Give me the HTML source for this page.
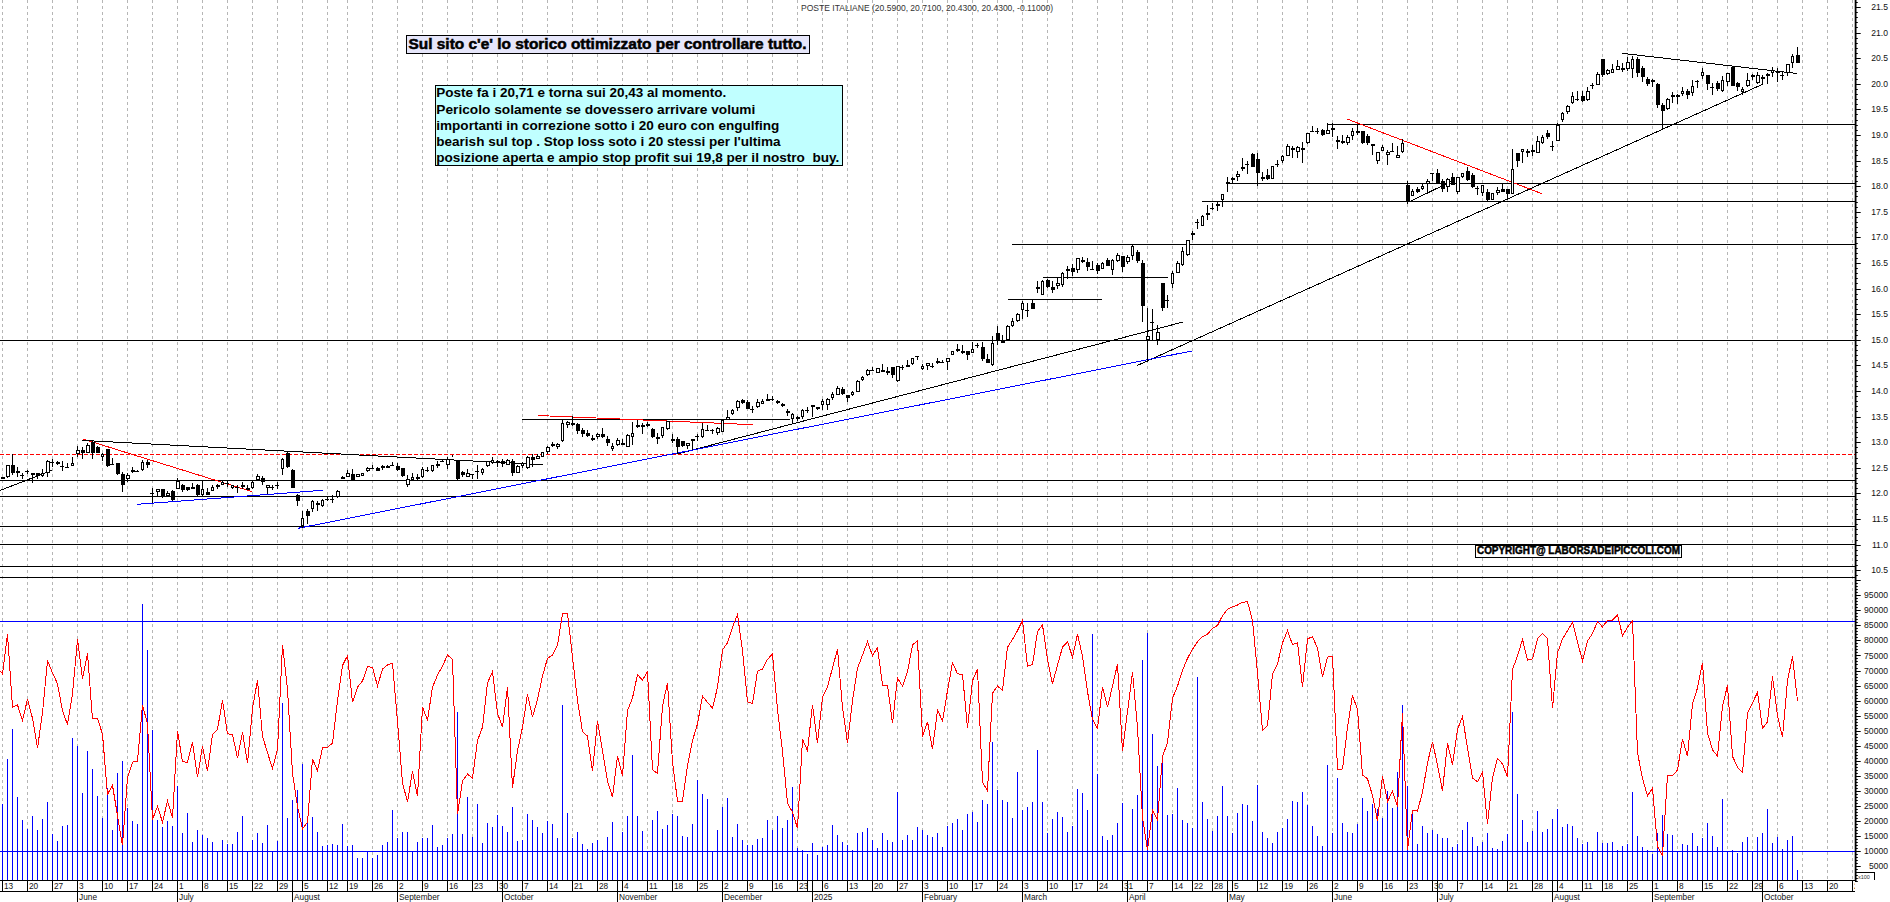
<!DOCTYPE html><html><head><meta charset="utf-8"><title>POSTE ITALIANE</title>
<style>html,body{margin:0;padding:0;background:#fff;overflow:hidden}svg{display:block}text{font-family:"Liberation Sans",Arial,sans-serif}</style></head><body>
<svg width="1890" height="902" viewBox="0 0 1890 902">
<rect width="1890" height="902" fill="#fff"/>
<path d="M2.5 0V880M27.5 0V880M52.5 0V880M77.5 0V880M102.5 0V880M127.5 0V880M152.5 0V880M177.5 0V880M202.5 0V880M227.5 0V880M252.5 0V880M277.5 0V880M302.5 0V880M327.5 0V880M347.5 0V880M372.5 0V880M397.5 0V880M422.5 0V880M447.5 0V880M472.5 0V880M497.5 0V880M522.5 0V880M547.5 0V880M572.5 0V880M597.5 0V880M622.5 0V880M647.5 0V880M672.5 0V880M697.5 0V880M722.5 0V880M747.5 0V880M772.5 0V880M797.5 0V880M822.5 0V880M847.5 0V880M872.5 0V880M897.5 0V880M922.5 0V880M947.5 0V880M972.5 0V880M997.5 0V880M1022.5 0V880M1047.5 0V880M1072.5 0V880M1097.5 0V880M1122.5 0V880M1147.5 0V880M1172.5 0V880M1192.5 0V880M1212.5 0V880M1232.5 0V880M1257.5 0V880M1282.5 0V880M1307.5 0V880M1332.5 0V880M1357.5 0V880M1382.5 0V880M1407.5 0V880M1432.5 0V880M1457.5 0V880M1482.5 0V880M1507.5 0V880M1532.5 0V880M1557.5 0V880M1582.5 0V880M1602.5 0V880M1627.5 0V880M1652.5 0V880M1677.5 0V880M1702.5 0V880M1727.5 0V880M1752.5 0V880M1777.5 0V880M1802.5 0V880M1827.5 0V880M1852.5 0V880" stroke="#b6b6b6" stroke-width="1" stroke-dasharray="3 3" fill="none" shape-rendering="crispEdges"/>
<path d="M0 340.5H1855M0 480.5H1855M0 496.5H1855M0 526.5H1855M0 544.5H1855M0 566.5H1855M0 577.5H1855M1327 124.5H1855M1227 183.5H1855M1202 201.5H1855M1012 244.5H1855M1043 277.5H1168M1008 299.5H1102M522 419.5H790" stroke="#000" stroke-width="1" fill="none" shape-rendering="crispEdges"/>
<path d="M0 454.5H1855" stroke="#f00" stroke-width="1" stroke-dasharray="4 2" fill="none" shape-rendering="crispEdges"/>
<line x1="1136.7" y1="365.7" x2="1762.6" y2="84.3" stroke="#000" stroke-width="1" shape-rendering="crispEdges"/>
<line x1="677" y1="454" x2="1183" y2="322" stroke="#000" stroke-width="1" shape-rendering="crispEdges"/>
<line x1="298" y1="528.3" x2="1191.7" y2="351" stroke="#00f" stroke-width="1" shape-rendering="crispEdges"/>
<line x1="137.3" y1="504.3" x2="322.7" y2="490.3" stroke="#00f" stroke-width="1" shape-rendering="crispEdges"/>
<line x1="82.7" y1="439" x2="252.3" y2="491.7" stroke="#f00" stroke-width="1" shape-rendering="crispEdges"/>
<line x1="82.5" y1="440.4" x2="543.3" y2="464.7" stroke="#000" stroke-width="1" shape-rendering="crispEdges"/>
<line x1="537.7" y1="415.5" x2="753.3" y2="424.7" stroke="#f00" stroke-width="1" shape-rendering="crispEdges"/>
<line x1="0" y1="490.5" x2="52" y2="470.3" stroke="#000" stroke-width="1" shape-rendering="crispEdges"/>
<line x1="1347" y1="119" x2="1541.7" y2="193.6" stroke="#f00" stroke-width="1" shape-rendering="crispEdges"/>
<line x1="1409" y1="202" x2="1452" y2="181" stroke="#000" stroke-width="1" shape-rendering="crispEdges"/>
<line x1="1622" y1="53.3" x2="1797" y2="73.5" stroke="#000" stroke-width="1" shape-rendering="crispEdges"/>
<path d="M2.5 477V479M7.5 465V465M7.5 477V478M12.5 454V475M17.5 467V477M22.5 473V479M20 475.5H24M27.5 470V474M25 471.5H29M32.5 473V483M37.5 473V479M42.5 469V473M42.5 476V477M47.5 460V461M47.5 473V477M52.5 459V467M50 462.5H54M57.5 461V465M62.5 461V471M60 466.5H64M67.5 463V468M65 467.5H69M72.5 457V463M72.5 466V466M77.5 446V450M77.5 454V457M82.5 447V459M87.5 443V445M87.5 453V453M92.5 441V459M97.5 446V453M102.5 453V454M102.5 457V461M107.5 449V467M112.5 458V465M110 464.5H114M117.5 463V475M122.5 472V492M127.5 473V475M127.5 479V482M132.5 467V473M137.5 470V472M135 471.5H139M142.5 460V462M142.5 470V471M147.5 460V468M152.5 488V503M150 493.5H154M157.5 489V489M157.5 492V496M162.5 489V498M167.5 491V493M167.5 496V496M172.5 490V501M177.5 478V481M177.5 489V489M182.5 484V492M187.5 487V491M192.5 483V489M197.5 484V496M202.5 481V489M202.5 495V496M207.5 488V495M212.5 485V487M212.5 491V491M217.5 484V489M222.5 481V482M222.5 485V485M227.5 481V487M225 483.5H229M232.5 485V485M232.5 488V489M237.5 485V493M235 487.5H239M242.5 482V489M247.5 485V490M252.5 480V482M252.5 488V489M257.5 474V476M257.5 480V481M262.5 476V485M267.5 485V485M267.5 488V494M272.5 485V490M270 487.5H274M277.5 482V489M275 485.5H279M282.5 458V459M282.5 469V475M287.5 451V468M292.5 469V488M297.5 494V506M302.5 511V518M302.5 526V528M307.5 509V524M312.5 500V501M312.5 509V512M317.5 501V511M322.5 499V500M322.5 506V507M327.5 497V501M325 499.5H329M332.5 495V503M330 499.5H334M337.5 490V491M337.5 497V498M342.5 476V479M347.5 470V473M347.5 477V477M352.5 469V480M357.5 474V474M357.5 477V477M362.5 473V473M362.5 476V476M367.5 467V468M367.5 471V472M372.5 465V469M370 468.5H374M377.5 467V471M382.5 465V470M387.5 465V468M392.5 462V466M390 465.5H394M397.5 463V471M402.5 468V477M407.5 475V479M407.5 485V487M412.5 473V477M412.5 480V480M417.5 474V480M422.5 467V469M422.5 477V478M427.5 467V472M425 470.5H429M432.5 465V465M432.5 471V472M437.5 461V468M442.5 459V462M440 461.5H444M447.5 457V459M447.5 465V469M452.5 455V457M457.5 461V481M462.5 471V477M467.5 469V473M467.5 477V477M472.5 474V479M470 474.5H474M477.5 465V479M475 471.5H479M482.5 468V469M482.5 473V475M487.5 461V461M487.5 466V467M492.5 457V460M492.5 463V464M497.5 460V467M502.5 459V467M507.5 459V460M507.5 465V465M512.5 459V476M517.5 465V466M517.5 473V473M522.5 462V463M522.5 466V468M527.5 456V457M527.5 468V469M532.5 454V467M537.5 454V456M537.5 459V459M542.5 452V452M542.5 457V457M547.5 446V447M547.5 452V454M552.5 442V447M557.5 443V444M557.5 447V449M562.5 420V423M562.5 441V442M567.5 421V422M567.5 425V428M572.5 416V426M577.5 423V434M582.5 428V437M587.5 430V437M592.5 435V441M597.5 433V434M597.5 437V439M602.5 428V438M607.5 436V446M612.5 443V446M612.5 449V451M617.5 438V440M617.5 445V446M622.5 439V444M627.5 434V435M627.5 447V447M632.5 422V433M632.5 437V445M637.5 420V428M642.5 423V434M647.5 422V427M652.5 428V438M657.5 433V444M662.5 427V427M662.5 436V438M667.5 421V421M667.5 429V430M672.5 434V443M677.5 437V454M682.5 441V447M687.5 443V443M687.5 446V449M692.5 439V449M697.5 434V441M695 436.5H699M702.5 423V429M702.5 437V438M707.5 425V431M705 430.5H709M712.5 429V434M710 430.5H714M717.5 427V428M717.5 433V435M722.5 419V420M722.5 432V432M727.5 410V417M727.5 420V420M732.5 409V410M732.5 414V415M737.5 400V401M737.5 408V411M742.5 399V404M747.5 400V409M752.5 406V413M750 409.5H754M757.5 399V402M757.5 407V408M762.5 399V401M762.5 404V404M767.5 394V400M772.5 396V401M770 399.5H774M777.5 400V404M782.5 403V407M787.5 409V416M792.5 413V414M792.5 419V424M797.5 416V421M802.5 409V410M802.5 417V419M807.5 407V413M805 410.5H809M812.5 405V417M817.5 407V410M822.5 399V401M822.5 405V410M827.5 398V399M827.5 405V410M832.5 392V394M832.5 398V400M837.5 386V388M837.5 395V395M842.5 387V395M847.5 395V402M852.5 391V392M852.5 395V396M857.5 380V381M857.5 392V392M862.5 376V377M862.5 380V381M867.5 369V370M867.5 375V376M872.5 367V371M870 370.5H874M877.5 368V368M877.5 373V373M882.5 364V372M887.5 367V375M892.5 367V378M897.5 366V366M897.5 381V382M902.5 365V370M900 367.5H904M907.5 360V367M912.5 358V358M912.5 364V365M917.5 356V360M915 356.5H919M922.5 364V366M922.5 369V370M927.5 363V363M927.5 366V370M932.5 363V368M930 366.5H934M937.5 358V364M942.5 360V363M940 362.5H944M947.5 358V358M947.5 362V370M952.5 351V351M952.5 355V355M957.5 344V352M962.5 345V354M967.5 351V360M972.5 342V349M972.5 353V353M977.5 343V348M975 345.5H979M982.5 342V361M987.5 354V363M992.5 336V343M992.5 365V366M997.5 326V345M1002.5 335V343M1007.5 325V326M1007.5 340V340M1012.5 318V321M1012.5 326V327M1017.5 313V314M1017.5 321V322M1022.5 301V303M1022.5 310V319M1027.5 303V317M1025 310.5H1029M1032.5 300V309M1037.5 281V293M1042.5 280V281M1042.5 295V295M1047.5 279V288M1052.5 281V293M1057.5 277V283M1057.5 286V289M1062.5 272V273M1062.5 285V287M1067.5 266V279M1072.5 264V276M1077.5 258V258M1077.5 270V273M1082.5 257V263M1087.5 258V271M1092.5 261V270M1090 269.5H1094M1097.5 263V274M1102.5 262V263M1102.5 269V269M1107.5 258V266M1112.5 259V260M1112.5 270V275M1117.5 253V255M1117.5 261V262M1122.5 256V272M1127.5 255V257M1127.5 262V264M1132.5 244V246M1132.5 256V260M1137.5 250V263M1142.5 260V322M1147.5 308V336M1147.5 340V362M1152.5 309V340M1150 322.5H1154M1157.5 325V332M1157.5 340V345M1162.5 283V311M1167.5 295V308M1165 300.5H1169M1172.5 271V273M1172.5 284V288M1177.5 261V263M1177.5 273V273M1182.5 247V251M1182.5 265V266M1187.5 240V240M1187.5 255V256M1192.5 231V240M1197.5 219V229M1195 222.5H1199M1202.5 215V216M1202.5 226V226M1207.5 205V220M1212.5 203V210M1210 208.5H1214M1217.5 202V211M1222.5 194V194M1222.5 200V207M1227.5 177V192M1232.5 177V183M1237.5 171V174M1237.5 177V181M1242.5 158V171M1247.5 161V174M1245 164.5H1249M1252.5 153V167M1257.5 153V186M1262.5 172V181M1267.5 169V180M1272.5 166V166M1272.5 179V179M1277.5 160V167M1275 164.5H1279M1282.5 155V156M1282.5 161V163M1287.5 144V146M1287.5 156V156M1292.5 146V158M1297.5 146V147M1297.5 152V158M1302.5 142V163M1307.5 133V133M1307.5 143V144M1312.5 126V132M1310 131.5H1314M1317.5 128V134M1315 131.5H1319M1322.5 129V136M1327.5 123V130M1327.5 134V134M1332.5 123V137M1337.5 136V149M1342.5 135V144M1347.5 135V137M1347.5 143V145M1352.5 128V131M1352.5 136V140M1357.5 124V135M1362.5 131V144M1367.5 134V145M1372.5 144V155M1377.5 152V152M1377.5 161V164M1382.5 145V147M1382.5 151V151M1387.5 150V152M1387.5 155V165M1392.5 143V152M1390 151.5H1394M1397.5 146V155M1397.5 158V158M1402.5 139V143M1402.5 152V153M1407.5 181V204M1412.5 189V191M1412.5 196V196M1417.5 187V193M1422.5 184V186M1422.5 189V190M1427.5 179V181M1427.5 184V193M1432.5 173V181M1430 173.5H1434M1437.5 169V184M1442.5 179V192M1447.5 178V179M1447.5 187V192M1452.5 173V185M1457.5 177V177M1457.5 192V194M1462.5 173V173M1462.5 177V178M1467.5 167V181M1472.5 173V188M1477.5 186V195M1475 188.5H1479M1482.5 185V185M1482.5 193V196M1487.5 189V201M1492.5 193V193M1492.5 200V200M1497.5 187V190M1497.5 193V195M1502.5 184V192M1507.5 189V198M1512.5 149V169M1512.5 194V194M1517.5 153V167M1522.5 149V149M1522.5 152V163M1527.5 149V157M1532.5 145V156M1537.5 136V141M1537.5 153V153M1542.5 135V137M1542.5 143V144M1547.5 130V139M1552.5 141V151M1550 146.5H1554M1557.5 123V125M1557.5 141V141M1562.5 112V113M1562.5 120V122M1567.5 105V106M1567.5 112V114M1572.5 92V96M1572.5 103V104M1577.5 91V101M1575 99.5H1579M1582.5 91V102M1587.5 87V91M1587.5 100V101M1592.5 83V89M1590 85.5H1594M1597.5 72V74M1597.5 85V85M1602.5 59V77M1607.5 69V70M1607.5 74V75M1612.5 64V69M1612.5 73V73M1617.5 60V66M1617.5 70V70M1622.5 63V72M1627.5 57V62M1627.5 69V71M1632.5 56V59M1632.5 69V78M1637.5 57V77M1642.5 66V82M1647.5 77V86M1652.5 79V87M1657.5 83V108M1662.5 103V129M1667.5 98V99M1667.5 109V110M1672.5 92V103M1677.5 94V104M1682.5 87V91M1682.5 94V96M1687.5 89V99M1692.5 80V86M1692.5 93V96M1697.5 80V88M1695 81.5H1699M1702.5 68V72M1702.5 76V79M1707.5 75V90M1712.5 83V95M1710 87.5H1714M1717.5 81V91M1722.5 76V80M1722.5 91V92M1727.5 73V73M1727.5 82V86M1732.5 66V86M1737.5 82V91M1742.5 87V89M1742.5 92V95M1747.5 73V80M1747.5 86V87M1752.5 74V80M1757.5 72V75M1757.5 83V84M1762.5 75V85M1767.5 73V84M1772.5 67V70M1772.5 73V77M1777.5 68V82M1782.5 72V80M1780 75.5H1784M1787.5 64V64M1787.5 73V76M1792.5 54V56M1792.5 63V68M1797.5 47V63" stroke="#000" stroke-width="1" fill="none" shape-rendering="crispEdges"/>
<path d="M1 477H5V479H1ZM11 465H15V473H11ZM16 471H20V473H16ZM31 473H35V475H31ZM36 473H40V476H36ZM56 462H60V464H56ZM81 450H85V453H81ZM91 442H95V453H91ZM96 447H100V453H96ZM106 449H110V466H106ZM116 463H120V474H116ZM121 474H125V485H121ZM131 470H135V472H131ZM146 462H150V465H146ZM161 489H165V497H161ZM171 491H175V500H171ZM181 485H185V490H181ZM186 487H190V490H186ZM191 487H195V489H191ZM196 485H200V495H196ZM206 492H210V495H206ZM216 485H220V487H216ZM241 485H245V487H241ZM246 488H250V490H246ZM261 478H265V482H261ZM286 453H290V467H286ZM291 470H295V488H291ZM296 495H300V501H296ZM306 511H310V516H306ZM316 503H320V505H316ZM341 477H345V479H341ZM351 474H355V480H351ZM376 468H380V471H376ZM381 466H385V468H381ZM386 466H390V468H386ZM396 466H400V470H396ZM401 468H405V476H401ZM416 477H420V479H416ZM436 464H440V466H436ZM456 461H460V479H456ZM461 472H465V475H461ZM496 461H500V463H496ZM501 461H505V464H501ZM511 461H515V473H511ZM531 457H535V460H531ZM551 444H555V446H551ZM571 423H575V425H571ZM576 424H580V431H576ZM581 430H585V434H581ZM586 433H590V436H586ZM591 438H595V440H591ZM601 434H605V437H601ZM606 439H610V443H606ZM621 443H625V445H621ZM636 425H640V427H636ZM641 425H645V427H641ZM646 424H650V426H646ZM651 429H655V437H651ZM656 437H660V439H656ZM671 439H675V441H671ZM676 439H680V447H676ZM681 441H685V446H681ZM691 439H695V441H691ZM741 400H745V403H741ZM746 402H750V409H746ZM766 399H770V401H766ZM776 401H780V403H776ZM781 404H785V406H781ZM786 411H790V413H786ZM796 417H800V419H796ZM811 405H815V407H811ZM816 407H820V409H816ZM841 389H845V394H841ZM846 395H850V398H846ZM881 370H885V372H881ZM886 371H890V373H886ZM891 367H895V375H891ZM906 365H910V367H906ZM936 361H940V363H936ZM956 349H960V351H956ZM961 351H965V353H961ZM966 351H970V355H966ZM981 347H985V359H981ZM986 359H990V363H986ZM996 333H1000V340H996ZM1001 341H1005V343H1001ZM1031 303H1035V309H1031ZM1036 287H1040V289H1036ZM1046 280H1050V287H1046ZM1051 287H1055V290H1051ZM1066 269H1070V271H1066ZM1071 268H1075V272H1071ZM1081 260H1085V262H1081ZM1086 262H1090V267H1086ZM1096 265H1100V271H1096ZM1106 260H1110V266H1106ZM1121 256H1125V267H1121ZM1136 252H1140V261H1136ZM1141 263H1145V306H1141ZM1161 283H1165V308H1161ZM1191 233H1195V235H1191ZM1206 213H1210V215H1206ZM1216 204H1220V206H1216ZM1226 182H1230V184H1226ZM1231 178H1235V180H1231ZM1241 167H1245V169H1241ZM1251 154H1255V167H1251ZM1256 159H1260V173H1256ZM1261 177H1265V179H1261ZM1266 175H1270V179H1266ZM1291 148H1295V150H1291ZM1301 148H1305V150H1301ZM1321 130H1325V135H1321ZM1331 128H1335V130H1331ZM1336 140H1340V142H1336ZM1341 141H1345V143H1341ZM1356 131H1360V133H1356ZM1361 131H1365V143H1361ZM1366 136H1370V143H1366ZM1371 144H1375V146H1371ZM1406 185H1410V202H1406ZM1416 189H1420V192H1416ZM1436 173H1440V183H1436ZM1441 181H1445V189H1441ZM1451 177H1455V185H1451ZM1466 171H1470V180H1466ZM1471 175H1475V187H1471ZM1486 192H1490V200H1486ZM1501 189H1505V192H1501ZM1506 189H1510V194H1506ZM1516 153H1520V161H1516ZM1526 151H1530V153H1526ZM1531 150H1535V152H1531ZM1546 133H1550V137H1546ZM1581 96H1585V101H1581ZM1601 59H1605V75H1601ZM1621 68H1625V70H1621ZM1636 59H1640V73H1636ZM1641 68H1645V77H1641ZM1646 79H1650V84H1646ZM1651 80H1655V82H1651ZM1656 84H1660V105H1656ZM1661 105H1665V111H1661ZM1671 95H1675V97H1671ZM1676 95H1680V97H1676ZM1686 91H1690V95H1686ZM1706 75H1710V84H1706ZM1716 83H1720V89H1716ZM1731 67H1735V86H1731ZM1736 83H1740V87H1736ZM1751 75H1755V77H1751ZM1761 77H1765V79H1761ZM1766 74H1770V76H1766ZM1776 71H1780V73H1776ZM1796 55H1800V63H1796Z" fill="#000" shape-rendering="crispEdges"/>
<path d="M6.5 465.5H9.5V476.5H6.5ZM41.5 473.5H43.5V475.5H41.5ZM46.5 461.5H49.5V472.5H46.5ZM71.5 463.5H73.5V465.5H71.5ZM76.5 450.5H79.5V453.5H76.5ZM86.5 445.5H89.5V452.5H86.5ZM101.5 454.5H103.5V456.5H101.5ZM126.5 475.5H129.5V478.5H126.5ZM141.5 462.5H143.5V469.5H141.5ZM156.5 489.5H159.5V491.5H156.5ZM166.5 493.5H169.5V495.5H166.5ZM176.5 481.5H179.5V488.5H176.5ZM201.5 489.5H203.5V494.5H201.5ZM211.5 487.5H213.5V490.5H211.5ZM221.5 482.5H223.5V484.5H221.5ZM231.5 485.5H233.5V487.5H231.5ZM251.5 482.5H253.5V487.5H251.5ZM256.5 476.5H259.5V479.5H256.5ZM266.5 485.5H269.5V487.5H266.5ZM281.5 459.5H283.5V468.5H281.5ZM301.5 518.5H303.5V525.5H301.5ZM311.5 501.5H313.5V508.5H311.5ZM321.5 500.5H323.5V505.5H321.5ZM336.5 491.5H339.5V496.5H336.5ZM346.5 473.5H349.5V476.5H346.5ZM356.5 474.5H359.5V476.5H356.5ZM361.5 473.5H363.5V475.5H361.5ZM366.5 468.5H369.5V470.5H366.5ZM406.5 479.5H409.5V484.5H406.5ZM411.5 477.5H413.5V479.5H411.5ZM421.5 469.5H423.5V476.5H421.5ZM431.5 465.5H433.5V470.5H431.5ZM446.5 459.5H449.5V464.5H446.5ZM466.5 473.5H469.5V476.5H466.5ZM481.5 469.5H483.5V472.5H481.5ZM486.5 461.5H489.5V465.5H486.5ZM491.5 460.5H493.5V462.5H491.5ZM506.5 460.5H509.5V464.5H506.5ZM516.5 466.5H519.5V472.5H516.5ZM521.5 463.5H523.5V465.5H521.5ZM526.5 457.5H529.5V467.5H526.5ZM536.5 456.5H539.5V458.5H536.5ZM541.5 452.5H543.5V456.5H541.5ZM546.5 447.5H549.5V451.5H546.5ZM556.5 444.5H559.5V446.5H556.5ZM561.5 423.5H563.5V440.5H561.5ZM566.5 422.5H569.5V424.5H566.5ZM596.5 434.5H599.5V436.5H596.5ZM611.5 446.5H613.5V448.5H611.5ZM616.5 440.5H619.5V444.5H616.5ZM626.5 435.5H629.5V446.5H626.5ZM631.5 433.5H633.5V436.5H631.5ZM661.5 427.5H663.5V435.5H661.5ZM666.5 421.5H669.5V428.5H666.5ZM686.5 443.5H689.5V445.5H686.5ZM701.5 429.5H703.5V436.5H701.5ZM716.5 428.5H719.5V432.5H716.5ZM721.5 420.5H723.5V431.5H721.5ZM726.5 417.5H729.5V419.5H726.5ZM731.5 410.5H733.5V413.5H731.5ZM736.5 401.5H739.5V407.5H736.5ZM756.5 402.5H759.5V406.5H756.5ZM761.5 401.5H763.5V403.5H761.5ZM791.5 414.5H793.5V418.5H791.5ZM801.5 410.5H803.5V416.5H801.5ZM821.5 401.5H823.5V404.5H821.5ZM826.5 399.5H829.5V404.5H826.5ZM831.5 394.5H833.5V397.5H831.5ZM836.5 388.5H839.5V394.5H836.5ZM851.5 392.5H853.5V394.5H851.5ZM856.5 381.5H859.5V391.5H856.5ZM861.5 377.5H863.5V379.5H861.5ZM866.5 370.5H869.5V374.5H866.5ZM876.5 368.5H879.5V372.5H876.5ZM896.5 366.5H899.5V380.5H896.5ZM911.5 358.5H913.5V363.5H911.5ZM921.5 366.5H923.5V368.5H921.5ZM926.5 363.5H929.5V365.5H926.5ZM946.5 358.5H949.5V361.5H946.5ZM951.5 351.5H953.5V354.5H951.5ZM971.5 349.5H973.5V352.5H971.5ZM991.5 343.5H993.5V364.5H991.5ZM1006.5 326.5H1009.5V339.5H1006.5ZM1011.5 321.5H1013.5V325.5H1011.5ZM1016.5 314.5H1019.5V320.5H1016.5ZM1021.5 303.5H1023.5V309.5H1021.5ZM1041.5 281.5H1043.5V294.5H1041.5ZM1056.5 283.5H1059.5V285.5H1056.5ZM1061.5 273.5H1063.5V284.5H1061.5ZM1076.5 258.5H1079.5V269.5H1076.5ZM1101.5 263.5H1103.5V268.5H1101.5ZM1111.5 260.5H1113.5V269.5H1111.5ZM1116.5 255.5H1119.5V260.5H1116.5ZM1126.5 257.5H1129.5V261.5H1126.5ZM1131.5 246.5H1133.5V255.5H1131.5ZM1146.5 336.5H1149.5V339.5H1146.5ZM1156.5 332.5H1159.5V339.5H1156.5ZM1171.5 273.5H1173.5V283.5H1171.5ZM1176.5 263.5H1179.5V272.5H1176.5ZM1181.5 251.5H1183.5V264.5H1181.5ZM1186.5 240.5H1189.5V254.5H1186.5ZM1201.5 216.5H1203.5V225.5H1201.5ZM1221.5 194.5H1223.5V199.5H1221.5ZM1236.5 174.5H1239.5V176.5H1236.5ZM1271.5 166.5H1273.5V178.5H1271.5ZM1281.5 156.5H1283.5V160.5H1281.5ZM1286.5 146.5H1289.5V155.5H1286.5ZM1296.5 147.5H1299.5V151.5H1296.5ZM1306.5 133.5H1309.5V142.5H1306.5ZM1326.5 130.5H1329.5V133.5H1326.5ZM1346.5 137.5H1349.5V142.5H1346.5ZM1351.5 131.5H1353.5V135.5H1351.5ZM1376.5 152.5H1379.5V160.5H1376.5ZM1381.5 147.5H1383.5V150.5H1381.5ZM1386.5 152.5H1389.5V154.5H1386.5ZM1396.5 155.5H1399.5V157.5H1396.5ZM1401.5 143.5H1403.5V151.5H1401.5ZM1411.5 191.5H1413.5V195.5H1411.5ZM1421.5 186.5H1423.5V188.5H1421.5ZM1426.5 181.5H1429.5V183.5H1426.5ZM1446.5 179.5H1449.5V186.5H1446.5ZM1456.5 177.5H1459.5V191.5H1456.5ZM1461.5 173.5H1463.5V176.5H1461.5ZM1481.5 185.5H1483.5V192.5H1481.5ZM1491.5 193.5H1493.5V199.5H1491.5ZM1496.5 190.5H1499.5V192.5H1496.5ZM1511.5 169.5H1513.5V193.5H1511.5ZM1521.5 149.5H1523.5V151.5H1521.5ZM1536.5 141.5H1539.5V152.5H1536.5ZM1541.5 137.5H1543.5V142.5H1541.5ZM1556.5 125.5H1559.5V140.5H1556.5ZM1561.5 113.5H1563.5V119.5H1561.5ZM1566.5 106.5H1569.5V111.5H1566.5ZM1571.5 96.5H1573.5V102.5H1571.5ZM1586.5 91.5H1589.5V99.5H1586.5ZM1596.5 74.5H1599.5V84.5H1596.5ZM1606.5 70.5H1609.5V73.5H1606.5ZM1611.5 69.5H1613.5V72.5H1611.5ZM1616.5 66.5H1619.5V69.5H1616.5ZM1626.5 62.5H1629.5V68.5H1626.5ZM1631.5 59.5H1633.5V68.5H1631.5ZM1666.5 99.5H1669.5V108.5H1666.5ZM1681.5 91.5H1683.5V93.5H1681.5ZM1691.5 86.5H1693.5V92.5H1691.5ZM1701.5 72.5H1703.5V75.5H1701.5ZM1721.5 80.5H1723.5V90.5H1721.5ZM1726.5 73.5H1729.5V81.5H1726.5ZM1741.5 89.5H1743.5V91.5H1741.5ZM1746.5 80.5H1749.5V85.5H1746.5ZM1756.5 75.5H1759.5V82.5H1756.5ZM1771.5 70.5H1773.5V72.5H1771.5ZM1786.5 64.5H1789.5V72.5H1786.5ZM1791.5 56.5H1793.5V62.5H1791.5Z" fill="#fff" stroke="#000" stroke-width="1" shape-rendering="crispEdges"/>
<path d="M2.5 804V880M7.5 759V880M12.5 729V880M17.5 797V880M22.5 820V880M27.5 829V880M32.5 816V880M37.5 830V880M42.5 819V880M47.5 802V880M52.5 834V880M57.5 841V880M62.5 826V880M67.5 825V880M72.5 738V880M77.5 746V880M82.5 793V880M87.5 751V880M92.5 769V880M97.5 796V880M102.5 818V880M107.5 788V880M112.5 830V880M117.5 773V880M122.5 761V880M127.5 808V880M132.5 821V880M137.5 824V880M142.5 604V880M147.5 650V880M152.5 730V880M157.5 820V880M162.5 827V880M167.5 821V880M172.5 826V880M177.5 786V880M182.5 833V880M187.5 813V880M192.5 842V880M197.5 830V880M202.5 835V880M207.5 838V880M212.5 842V880M217.5 852V880M222.5 840V880M227.5 844V880M232.5 844V880M237.5 832V880M242.5 816V880M247.5 852V880M252.5 840V880M257.5 833V880M262.5 843V880M267.5 825V880M272.5 852V880M277.5 841V880M282.5 703V880M287.5 818V880M292.5 800V880M297.5 790V880M302.5 764V880M307.5 822V880M312.5 817V880M317.5 832V880M322.5 846V880M327.5 845V880M332.5 844V880M337.5 845V880M342.5 824V880M347.5 846V880M352.5 845V880M357.5 858V880M362.5 858V880M367.5 852V880M372.5 858V880M377.5 855V880M382.5 845V880M387.5 842V880M392.5 810V880M397.5 838V880M402.5 832V880M407.5 832V880M412.5 852V880M417.5 842V880M422.5 838V880M427.5 838V880M432.5 825V880M437.5 847V880M442.5 845V880M447.5 838V880M452.5 834V880M457.5 712V880M462.5 834V880M467.5 797V880M472.5 837V880M477.5 804V880M482.5 843V880M487.5 823V880M492.5 827V880M497.5 815V880M502.5 826V880M507.5 832V880M512.5 807V880M517.5 841V880M522.5 840V880M527.5 814V880M532.5 820V880M537.5 827V880M542.5 833V880M547.5 821V880M552.5 824V880M557.5 838V880M562.5 705V880M567.5 813V880M572.5 838V880M577.5 832V880M582.5 844V880M587.5 849V880M592.5 843V880M597.5 840V880M602.5 850V880M607.5 837V880M612.5 822V880M617.5 852V880M622.5 832V880M627.5 816V880M632.5 755V880M637.5 816V880M642.5 831V880M647.5 852V880M652.5 820V880M657.5 811V880M662.5 829V880M667.5 825V880M672.5 814V880M677.5 816V880M682.5 836V880M687.5 837V880M692.5 824V880M697.5 780V880M702.5 794V880M707.5 799V880M712.5 852V880M717.5 830V880M722.5 807V880M727.5 798V880M732.5 837V880M737.5 824V880M742.5 840V880M747.5 845V880M752.5 845V880M757.5 839V880M762.5 838V880M767.5 820V880M772.5 830V880M777.5 816V880M782.5 828V880M787.5 820V880M792.5 787V880M797.5 848V880M802.5 850V880M807.5 854V880M812.5 843V880M817.5 855V880M822.5 847V880M827.5 845V880M832.5 825V880M837.5 835V880M842.5 842V880M847.5 845V880M852.5 850V880M857.5 833V880M862.5 832V880M867.5 828V880M872.5 840V880M877.5 848V880M882.5 833V880M887.5 840V880M892.5 842V880M897.5 792V880M902.5 840V880M907.5 835V880M912.5 840V880M917.5 827V880M922.5 830V880M927.5 835V880M932.5 837V880M937.5 833V880M942.5 847V880M947.5 826V880M952.5 823V880M957.5 819V880M962.5 830V880M967.5 814V880M972.5 812V880M977.5 822V880M982.5 800V880M987.5 804V880M992.5 742V880M997.5 790V880M1002.5 800V880M1007.5 802V880M1012.5 818V880M1017.5 772V880M1022.5 810V880M1027.5 807V880M1032.5 802V880M1037.5 750V880M1042.5 802V880M1047.5 833V880M1052.5 819V880M1057.5 812V880M1062.5 817V880M1067.5 832V880M1072.5 826V880M1077.5 789V880M1082.5 793V880M1087.5 810V880M1092.5 634V880M1097.5 774V880M1102.5 836V880M1107.5 840V880M1112.5 835V880M1117.5 823V880M1122.5 803V880M1132.5 809V880M1137.5 795V880M1142.5 660V880M1147.5 633V880M1152.5 734V880M1157.5 766V880M1162.5 760V880M1167.5 815V880M1172.5 814V880M1177.5 788V880M1182.5 820V880M1187.5 823V880M1192.5 828V880M1197.5 677V880M1202.5 802V880M1207.5 819V880M1212.5 831V880M1217.5 816V880M1222.5 786V880M1227.5 816V880M1232.5 833V880M1237.5 813V880M1242.5 804V880M1247.5 805V880M1252.5 821V880M1257.5 785V880M1262.5 832V880M1267.5 838V880M1272.5 843V880M1277.5 832V880M1282.5 828V880M1287.5 819V880M1292.5 801V880M1297.5 802V880M1302.5 792V880M1307.5 805V880M1312.5 826V880M1317.5 836V880M1322.5 846V880M1327.5 765V880M1332.5 833V880M1337.5 778V880M1342.5 823V880M1347.5 832V880M1352.5 833V880M1357.5 824V880M1362.5 798V880M1367.5 811V880M1372.5 804V880M1377.5 809V880M1382.5 818V880M1387.5 791V880M1392.5 808V880M1397.5 772V880M1402.5 705V880M1407.5 786V880M1412.5 813V880M1417.5 844V880M1422.5 826V880M1427.5 833V880M1432.5 830V880M1437.5 834V880M1442.5 838V880M1447.5 838V880M1452.5 847V880M1457.5 844V880M1462.5 830V880M1467.5 822V880M1472.5 837V880M1477.5 846V880M1482.5 842V880M1487.5 833V880M1492.5 848V880M1497.5 849V880M1502.5 841V880M1507.5 834V880M1512.5 712V880M1517.5 794V880M1522.5 820V880M1527.5 842V880M1532.5 831V880M1537.5 811V880M1542.5 832V880M1547.5 829V880M1552.5 819V880M1557.5 809V880M1562.5 827V880M1567.5 824V880M1572.5 826V880M1577.5 838V880M1582.5 844V880M1587.5 842V880M1592.5 852V880M1597.5 832V880M1602.5 843V880M1607.5 843V880M1612.5 842V880M1617.5 850V880M1622.5 846V880M1627.5 844V880M1632.5 792V880M1637.5 836V880M1642.5 847V880M1647.5 850V880M1652.5 854V880M1657.5 833V880M1662.5 815V880M1667.5 834V880M1672.5 835V880M1677.5 851V880M1682.5 844V880M1687.5 845V880M1692.5 833V880M1697.5 846V880M1702.5 838V880M1707.5 823V880M1712.5 836V880M1717.5 847V880M1722.5 799V880M1727.5 851V880M1732.5 850V880M1737.5 853V880M1742.5 842V880M1747.5 837V880M1752.5 851V880M1757.5 837V880M1762.5 833V880M1767.5 809V880M1772.5 843V880M1777.5 837V880M1782.5 849V880M1787.5 840V880M1792.5 836V880M1797.5 870V880" stroke="#00f" stroke-width="1" fill="none" shape-rendering="crispEdges"/>
<path d="M0 621.5H1855M0 851.5H1855" stroke="#00f" stroke-width="1" fill="none" shape-rendering="crispEdges"/>
<polyline points="0,670.9 2.5,673.9 7.5,634.3 12.5,707.2 17.5,705.0 22.5,720.1 27.5,699.4 32.5,718.3 37.5,748.3 42.5,712.8 47.5,660.6 52.5,672.8 57.5,683.9 62.5,710.6 67.5,724.6 72.5,693.9 77.5,639.4 82.5,678.8 87.5,653.4 92.5,719.0 97.5,718.3 102.5,734.3 107.5,794.3 112.5,785.4 117.5,815.4 122.5,845.4 127.5,777.7 132.5,762.1 137.5,761.0 142.5,705.0 147.5,723.9 152.5,819.4 157.5,806.6 162.5,822.1 167.5,801.0 172.5,817.7 177.5,731.2 182.5,761.7 187.5,762.3 192.5,742.1 197.5,777.2 202.5,746.1 207.5,771.2 212.5,734.3 217.5,729.4 222.5,700.1 227.5,733.9 232.5,734.3 237.5,758.3 242.5,732.1 247.5,763.4 252.5,708.3 257.5,680.1 262.5,736.1 267.5,752.8 272.5,768.3 277.5,749.4 282.5,644.6 287.5,689.4 292.5,773.2 297.5,806.6 302.5,828.8 307.5,822.1 312.5,759.0 317.5,770.6 322.5,747.9 327.5,747.2 332.5,743.2 337.5,700.6 342.5,665.4 347.5,655.7 352.5,702.3 357.5,687.2 362.5,681.0 367.5,666.8 372.5,667.2 377.5,686.1 382.5,669.0 387.5,665.0 392.5,663.2 397.5,721.7 402.5,782.8 407.5,802.1 412.5,771.2 417.5,796.1 422.5,707.2 427.5,720.1 432.5,687.2 437.5,675.0 442.5,666.1 447.5,655.0 452.5,659.4 457.5,814.3 462.5,781.0 467.5,774.1 472.5,778.3 477.5,740.6 482.5,727.2 487.5,682.8 492.5,671.7 497.5,713.4 502.5,727.2 507.5,686.8 512.5,787.7 517.5,750.8 522.5,727.2 527.5,694.3 532.5,717.2 537.5,699.4 542.5,676.1 547.5,658.3 552.5,655.0 557.5,645.0 562.5,613.9 567.5,613.4 572.5,657.2 577.5,700.6 582.5,731.7 587.5,736.1 592.5,771.2 597.5,720.6 602.5,750.6 607.5,781.0 612.5,797.2 617.5,755.7 622.5,775.7 627.5,710.6 632.5,697.9 637.5,674.6 642.5,680.1 647.5,671.7 652.5,769.7 657.5,773.4 662.5,706.1 667.5,682.8 672.5,762.1 677.5,801.0 682.5,801.0 687.5,765.7 692.5,740.6 697.5,723.9 702.5,696.1 707.5,702.3 712.5,708.3 717.5,687.2 722.5,649.9 727.5,642.8 732.5,627.2 737.5,614.6 742.5,650.6 747.5,701.7 752.5,703.4 757.5,671.2 762.5,669.0 767.5,659.4 772.5,653.9 777.5,709.4 782.5,751.4 787.5,803.2 792.5,812.1 797.5,828.3 802.5,739.4 807.5,750.6 812.5,704.6 817.5,743.2 822.5,697.2 827.5,687.2 832.5,667.7 837.5,649.4 842.5,707.2 847.5,743.2 852.5,700.6 857.5,668.3 862.5,655.0 867.5,641.7 872.5,655.7 877.5,647.7 882.5,685.0 887.5,685.0 892.5,723.2 897.5,677.9 902.5,686.1 907.5,671.7 912.5,645.0 917.5,640.6 922.5,736.6 927.5,721.7 932.5,749.4 937.5,709.9 942.5,721.0 947.5,690.6 952.5,662.8 957.5,673.9 962.5,674.3 967.5,727.9 972.5,680.6 977.5,669.0 982.5,782.1 987.5,791.0 992.5,693.2 997.5,686.1 1002.5,690.1 1007.5,647.2 1012.5,639.4 1017.5,630.6 1022.5,620.6 1027.5,666.1 1032.5,664.6 1037.5,631.7 1042.5,625.0 1047.5,659.4 1052.5,683.9 1057.5,665.0 1062.5,647.2 1067.5,641.7 1072.5,657.2 1077.5,634.3 1082.5,656.1 1087.5,691.7 1092.5,719.4 1097.5,728.3 1102.5,686.8 1107.5,707.2 1112.5,686.1 1117.5,663.9 1122.5,751.2 1127.5,711.7 1132.5,671.7 1137.5,727.2 1142.5,817.7 1147.5,849.9 1152.5,809.9 1157.5,819.9 1162.5,756.3 1167.5,742.8 1172.5,698.3 1177.5,686.1 1182.5,670.6 1187.5,658.3 1192.5,649.4 1197.5,641.7 1202.5,636.6 1207.5,634.3 1212.5,628.3 1217.5,625.4 1222.5,615.7 1227.5,609.4 1232.5,606.8 1237.5,605.0 1242.5,602.3 1247.5,601.7 1252.5,620.6 1257.5,672.8 1262.5,730.6 1267.5,725.4 1272.5,673.9 1277.5,663.9 1282.5,642.8 1287.5,630.6 1292.5,644.6 1297.5,642.8 1302.5,686.8 1307.5,639.0 1312.5,636.6 1317.5,648.3 1322.5,677.2 1327.5,657.2 1332.5,656.1 1337.5,769.4 1342.5,769.0 1347.5,727.2 1352.5,695.4 1357.5,709.4 1362.5,775.0 1367.5,778.8 1372.5,795.4 1377.5,821.0 1382.5,776.1 1387.5,801.7 1392.5,791.0 1397.5,806.6 1402.5,712.6 1407.5,849.9 1412.5,810.6 1417.5,811.0 1422.5,792.1 1427.5,763.0 1432.5,741.7 1437.5,765.2 1442.5,791.0 1447.5,743.2 1452.5,764.6 1457.5,729.4 1462.5,716.6 1467.5,748.3 1472.5,777.9 1477.5,781.7 1482.5,771.7 1487.5,824.3 1492.5,777.7 1497.5,758.3 1502.5,763.9 1507.5,777.2 1512.5,669.4 1517.5,656.1 1522.5,639.4 1527.5,660.1 1532.5,658.8 1537.5,638.8 1542.5,633.4 1547.5,638.8 1552.5,708.3 1557.5,652.8 1562.5,639.0 1567.5,630.6 1572.5,622.3 1577.5,642.3 1582.5,660.6 1587.5,641.0 1592.5,633.4 1597.5,621.7 1602.5,626.8 1607.5,620.6 1612.5,620.1 1617.5,615.0 1622.5,635.7 1627.5,627.2 1632.5,620.6 1637.5,752.8 1642.5,778.3 1647.5,795.9 1652.5,788.3 1657.5,846.6 1662.5,855.4 1667.5,775.3 1672.5,775.7 1677.5,770.1 1682.5,738.8 1687.5,756.3 1692.5,703.8 1697.5,687.9 1702.5,662.9 1707.5,732.8 1712.5,749.7 1717.5,756.3 1722.5,705.8 1727.5,685.5 1732.5,756.3 1737.5,767.3 1742.5,772.7 1747.5,713.4 1752.5,702.8 1757.5,692.3 1762.5,728.4 1767.5,721.8 1772.5,676.5 1777.5,715.8 1782.5,737.4 1787.5,680.9 1792.5,656.3 1797.5,700.8" stroke="#f00" stroke-width="1" fill="none" shape-rendering="crispEdges"/>
<path d="M1855 580.5H1857.8M1855 575.5H1857.8M1855 570.5H1860.7M1855 565.5H1857.8M1855 560.5H1857.8M1855 555.5H1857.8M1855 550.5H1857.8M1855 545.5H1860.7M1855 540.5H1857.8M1855 534.5H1857.8M1855 529.5H1857.8M1855 524.5H1857.8M1855 519.5H1860.7M1855 514.5H1857.8M1855 509.5H1857.8M1855 504.5H1857.8M1855 499.5H1857.8M1855 493.5H1860.7M1855 488.5H1857.8M1855 483.5H1857.8M1855 478.5H1857.8M1855 473.5H1857.8M1855 468.5H1860.7M1855 463.5H1857.8M1855 458.5H1857.8M1855 452.5H1857.8M1855 447.5H1857.8M1855 442.5H1860.7M1855 437.5H1857.8M1855 432.5H1857.8M1855 427.5H1857.8M1855 422.5H1857.8M1855 417.5H1860.7M1855 411.5H1857.8M1855 406.5H1857.8M1855 401.5H1857.8M1855 396.5H1857.8M1855 391.5H1860.7M1855 386.5H1857.8M1855 381.5H1857.8M1855 376.5H1857.8M1855 371.5H1857.8M1855 365.5H1860.7M1855 360.5H1857.8M1855 355.5H1857.8M1855 350.5H1857.8M1855 345.5H1857.8M1855 340.5H1860.7M1855 335.5H1857.8M1855 330.5H1857.8M1855 324.5H1857.8M1855 319.5H1857.8M1855 314.5H1860.7M1855 309.5H1857.8M1855 304.5H1857.8M1855 299.5H1857.8M1855 294.5H1857.8M1855 289.5H1860.7M1855 283.5H1857.8M1855 278.5H1857.8M1855 273.5H1857.8M1855 268.5H1857.8M1855 263.5H1860.7M1855 258.5H1857.8M1855 253.5H1857.8M1855 248.5H1857.8M1855 243.5H1857.8M1855 237.5H1860.7M1855 232.5H1857.8M1855 227.5H1857.8M1855 222.5H1857.8M1855 217.5H1857.8M1855 212.5H1860.7M1855 207.5H1857.8M1855 202.5H1857.8M1855 196.5H1857.8M1855 191.5H1857.8M1855 186.5H1860.7M1855 181.5H1857.8M1855 176.5H1857.8M1855 171.5H1857.8M1855 166.5H1857.8M1855 161.5H1860.7M1855 155.5H1857.8M1855 150.5H1857.8M1855 145.5H1857.8M1855 140.5H1857.8M1855 135.5H1860.7M1855 130.5H1857.8M1855 125.5H1857.8M1855 120.5H1857.8M1855 114.5H1857.8M1855 109.5H1860.7M1855 104.5H1857.8M1855 99.5H1857.8M1855 94.5H1857.8M1855 89.5H1857.8M1855 84.5H1860.7M1855 79.5H1857.8M1855 74.5H1857.8M1855 68.5H1857.8M1855 63.5H1857.8M1855 58.5H1860.7M1855 53.5H1857.8M1855 48.5H1857.8M1855 43.5H1857.8M1855 38.5H1857.8M1855 33.5H1860.7M1855 27.5H1857.8M1855 22.5H1857.8M1855 17.5H1857.8M1855 12.5H1857.8M1855 7.5H1860.7M1855 2.5H1857.8M1855 -2.5H1857.8M1855 881.5H1857.8M1855 878.5H1857.8M1855 875.5H1857.8M1855 872.5H1857.8M1855 869.5H1857.8M1855 866.5H1860.7M1855 863.5H1857.8M1855 860.5H1857.8M1855 857.5H1857.8M1855 854.5H1857.8M1855 851.5H1860.7M1855 848.5H1857.8M1855 845.5H1857.8M1855 842.5H1857.8M1855 839.5H1857.8M1855 836.5H1860.7M1855 833.5H1857.8M1855 830.5H1857.8M1855 827.5H1857.8M1855 824.5H1857.8M1855 821.5H1860.7M1855 818.5H1857.8M1855 815.5H1857.8M1855 812.5H1857.8M1855 809.5H1857.8M1855 806.5H1860.7M1855 803.5H1857.8M1855 800.5H1857.8M1855 797.5H1857.8M1855 794.5H1857.8M1855 791.5H1860.7M1855 788.5H1857.8M1855 785.5H1857.8M1855 782.5H1857.8M1855 779.5H1857.8M1855 776.5H1860.7M1855 773.5H1857.8M1855 770.5H1857.8M1855 767.5H1857.8M1855 764.5H1857.8M1855 761.5H1860.7M1855 758.5H1857.8M1855 755.5H1857.8M1855 752.5H1857.8M1855 749.5H1857.8M1855 746.5H1860.7M1855 743.5H1857.8M1855 740.5H1857.8M1855 737.5H1857.8M1855 734.5H1857.8M1855 731.5H1860.7M1855 728.5H1857.8M1855 725.5H1857.8M1855 722.5H1857.8M1855 719.5H1857.8M1855 716.5H1860.7M1855 713.5H1857.8M1855 710.5H1857.8M1855 707.5H1857.8M1855 704.5H1857.8M1855 701.5H1860.7M1855 698.5H1857.8M1855 695.5H1857.8M1855 692.5H1857.8M1855 689.5H1857.8M1855 686.5H1860.7M1855 683.5H1857.8M1855 680.5H1857.8M1855 677.5H1857.8M1855 674.5H1857.8M1855 671.5H1860.7M1855 668.5H1857.8M1855 664.5H1857.8M1855 661.5H1857.8M1855 658.5H1857.8M1855 655.5H1860.7M1855 652.5H1857.8M1855 649.5H1857.8M1855 646.5H1857.8M1855 643.5H1857.8M1855 640.5H1860.7M1855 637.5H1857.8M1855 634.5H1857.8M1855 631.5H1857.8M1855 628.5H1857.8M1855 625.5H1860.7M1855 622.5H1857.8M1855 619.5H1857.8M1855 616.5H1857.8M1855 613.5H1857.8M1855 610.5H1860.7M1855 607.5H1857.8M1855 604.5H1857.8M1855 601.5H1857.8M1855 598.5H1857.8M1855 595.5H1860.7M1855 592.5H1857.8M1855 589.5H1857.8M1855 586.5H1857.8M1855 583.5H1857.8M1855 580.5H1860.7" stroke="#000" stroke-width="1" fill="none"/>
<rect x="1854.7" y="0" width="1.8" height="881" fill="#000"/>
<g font-size="8.6" fill="#111"><text x="1888" y="573.2" text-anchor="end">10.5</text><text x="1888" y="547.6" text-anchor="end">11.0</text><text x="1888" y="522.0" text-anchor="end">11.5</text><text x="1888" y="496.4" text-anchor="end">12.0</text><text x="1888" y="470.8" text-anchor="end">12.5</text><text x="1888" y="445.2" text-anchor="end">13.0</text><text x="1888" y="419.6" text-anchor="end">13.5</text><text x="1888" y="394.0" text-anchor="end">14.0</text><text x="1888" y="368.4" text-anchor="end">14.5</text><text x="1888" y="342.8" text-anchor="end">15.0</text><text x="1888" y="317.2" text-anchor="end">15.5</text><text x="1888" y="291.6" text-anchor="end">16.0</text><text x="1888" y="266.0" text-anchor="end">16.5</text><text x="1888" y="240.4" text-anchor="end">17.0</text><text x="1888" y="214.8" text-anchor="end">17.5</text><text x="1888" y="189.2" text-anchor="end">18.0</text><text x="1888" y="163.6" text-anchor="end">18.5</text><text x="1888" y="138.0" text-anchor="end">19.0</text><text x="1888" y="112.4" text-anchor="end">19.5</text><text x="1888" y="86.8" text-anchor="end">20.0</text><text x="1888" y="61.1" text-anchor="end">20.5</text><text x="1888" y="35.5" text-anchor="end">21.0</text><text x="1888" y="9.9" text-anchor="end">21.5</text><text x="1888" y="869.0" text-anchor="end">5000</text><text x="1888" y="853.9" text-anchor="end">10000</text><text x="1888" y="838.9" text-anchor="end">15000</text><text x="1888" y="823.9" text-anchor="end">20000</text><text x="1888" y="808.8" text-anchor="end">25000</text><text x="1888" y="793.8" text-anchor="end">30000</text><text x="1888" y="778.8" text-anchor="end">35000</text><text x="1888" y="763.7" text-anchor="end">40000</text><text x="1888" y="748.7" text-anchor="end">45000</text><text x="1888" y="733.6" text-anchor="end">50000</text><text x="1888" y="718.6" text-anchor="end">55000</text><text x="1888" y="703.6" text-anchor="end">60000</text><text x="1888" y="688.5" text-anchor="end">65000</text><text x="1888" y="673.5" text-anchor="end">70000</text><text x="1888" y="658.5" text-anchor="end">75000</text><text x="1888" y="643.4" text-anchor="end">80000</text><text x="1888" y="628.4" text-anchor="end">85000</text><text x="1888" y="613.4" text-anchor="end">90000</text><text x="1888" y="598.3" text-anchor="end">95000</text></g>
<path d="M1857 872.5H1874.5V880" stroke="#000" fill="none" shape-rendering="crispEdges"/>
<text x="1858" y="878.5" font-size="5.5" fill="#333">x100</text>
<path d="M0 880.5H1856M0 891.5H1855M2.5 880V892M27.5 880V892M52.5 880V892M77.5 880V892M102.5 880V892M127.5 880V892M152.5 880V892M177.5 880V892M202.5 880V892M227.5 880V892M252.5 880V892M277.5 880V892M302.5 880V892M327.5 880V892M347.5 880V892M372.5 880V892M397.5 880V892M422.5 880V892M447.5 880V892M472.5 880V892M497.5 880V892M522.5 880V892M547.5 880V892M572.5 880V892M597.5 880V892M622.5 880V892M647.5 880V892M672.5 880V892M697.5 880V892M722.5 880V892M747.5 880V892M772.5 880V892M797.5 880V892M807.5 880V892M822.5 880V892M847.5 880V892M872.5 880V892M897.5 880V892M922.5 880V892M947.5 880V892M972.5 880V892M997.5 880V892M1022.5 880V892M1047.5 880V892M1072.5 880V892M1097.5 880V892M1122.5 880V892M1147.5 880V892M1172.5 880V892M1192.5 880V892M1212.5 880V892M1232.5 880V892M1257.5 880V892M1282.5 880V892M1307.5 880V892M1332.5 880V892M1357.5 880V892M1382.5 880V892M1407.5 880V892M1432.5 880V892M1457.5 880V892M1482.5 880V892M1507.5 880V892M1532.5 880V892M1557.5 880V892M1582.5 880V892M1602.5 880V892M1627.5 880V892M1652.5 880V892M1677.5 880V892M1702.5 880V892M1727.5 880V892M1752.5 880V892M1777.5 880V892M1802.5 880V892M1827.5 880V892M1852.5 880V892M77.5 880V902M177.5 880V902M292.5 880V902M397.5 880V902M502.5 880V902M617.5 880V902M722.5 880V902M812.5 880V902M922.5 880V902M1022.5 880V902M1127.5 880V902M1227.5 880V902M1332.5 880V902M1437.5 880V902M1552.5 880V902M1652.5 880V902M1762.5 880V902" stroke="#000" stroke-width="1" fill="none" shape-rendering="crispEdges"/>
<clipPath id="cb"><rect x="0" y="880" width="1855" height="22"/></clipPath>
<g font-size="8.3" fill="#111" clip-path="url(#cb)"><text x="4" y="889">13</text><text x="29" y="889">20</text><text x="54" y="889">27</text><text x="79" y="889">3</text><text x="104" y="889">10</text><text x="129" y="889">17</text><text x="154" y="889">24</text><text x="179" y="889">1</text><text x="204" y="889">8</text><text x="229" y="889">15</text><text x="254" y="889">22</text><text x="279" y="889">29</text><text x="304" y="889">5</text><text x="329" y="889">12</text><text x="349" y="889">19</text><text x="374" y="889">26</text><text x="399" y="889">2</text><text x="424" y="889">9</text><text x="449" y="889">16</text><text x="474" y="889">23</text><text x="499" y="889">30</text><text x="524" y="889">7</text><text x="549" y="889">14</text><text x="574" y="889">21</text><text x="599" y="889">28</text><text x="624" y="889">4</text><text x="649" y="889">11</text><text x="674" y="889">18</text><text x="699" y="889">25</text><text x="724" y="889">2</text><text x="749" y="889">9</text><text x="774" y="889">16</text><text x="799" y="889">23</text><text x="824" y="889">6</text><text x="849" y="889">13</text><text x="874" y="889">20</text><text x="899" y="889">27</text><text x="924" y="889">3</text><text x="949" y="889">10</text><text x="974" y="889">17</text><text x="999" y="889">24</text><text x="1024" y="889">3</text><text x="1049" y="889">10</text><text x="1074" y="889">17</text><text x="1099" y="889">24</text><text x="1124" y="889">31</text><text x="1149" y="889">7</text><text x="1174" y="889">14</text><text x="1194" y="889">22</text><text x="1214" y="889">28</text><text x="1234" y="889">5</text><text x="1259" y="889">12</text><text x="1284" y="889">19</text><text x="1309" y="889">26</text><text x="1334" y="889">2</text><text x="1359" y="889">9</text><text x="1384" y="889">16</text><text x="1409" y="889">23</text><text x="1434" y="889">30</text><text x="1459" y="889">7</text><text x="1484" y="889">14</text><text x="1509" y="889">21</text><text x="1534" y="889">28</text><text x="1559" y="889">4</text><text x="1584" y="889">11</text><text x="1604" y="889">18</text><text x="1629" y="889">25</text><text x="1654" y="889">1</text><text x="1679" y="889">8</text><text x="1704" y="889">15</text><text x="1729" y="889">22</text><text x="1754" y="889">29</text><text x="1779" y="889">6</text><text x="1804" y="889">13</text><text x="1829" y="889">20</text><text x="1854" y="889">27</text><text x="79" y="900">June</text><text x="179" y="900">July</text><text x="294" y="900">August</text><text x="399" y="900">September</text><text x="504" y="900">October</text><text x="619" y="900">November</text><text x="724" y="900">December</text><text x="814" y="900">2025</text><text x="924" y="900">February</text><text x="1024" y="900">March</text><text x="1129" y="900">April</text><text x="1229" y="900">May</text><text x="1334" y="900">June</text><text x="1439" y="900">July</text><text x="1554" y="900">August</text><text x="1654" y="900">September</text><text x="1764" y="900">October</text></g>
<text x="927" y="11" font-size="8.3" fill="#333" text-anchor="middle" textLength="252" lengthAdjust="spacingAndGlyphs">POSTE ITALIANE (20.5900, 20.7100, 20.4300, 20.4300, -0.11000)</text>
<rect x="406.5" y="35.5" width="403" height="18" fill="#e6e6fa" stroke="#000" shape-rendering="crispEdges"/>
<text x="408.5" y="49.3" font-size="14.2" font-weight="bold" fill="#000" stroke="#000" stroke-width="0.5" textLength="398" lengthAdjust="spacingAndGlyphs">Sul sito c'e' lo storico ottimizzato per controllare tutto.</text>
<rect x="435.5" y="85.5" width="407" height="80" fill="#c0ffff" stroke="#000" shape-rendering="crispEdges"/>
<text x="436.3" y="97" font-size="13.33" font-weight="bold" fill="#000" xml:space="preserve" textLength="290" lengthAdjust="spacingAndGlyphs">Poste fa i 20,71 e torna sui 20,43 al momento.</text>
<text x="436.3" y="113.5" font-size="13.33" font-weight="bold" fill="#000" xml:space="preserve" textLength="319" lengthAdjust="spacingAndGlyphs">Pericolo solamente se dovessero arrivare volumi</text>
<text x="436.3" y="130" font-size="13.33" font-weight="bold" fill="#000" xml:space="preserve" textLength="343" lengthAdjust="spacingAndGlyphs">importanti in correzione sotto i 20 euro con engulfing</text>
<text x="436.3" y="146.2" font-size="13.33" font-weight="bold" fill="#000" xml:space="preserve" textLength="344.3" lengthAdjust="spacingAndGlyphs">bearish sul top . Stop loss soto i 20 stessi per l'ultima</text>
<text x="436.3" y="162" font-size="13.33" font-weight="bold" fill="#000" xml:space="preserve" textLength="403" lengthAdjust="spacingAndGlyphs">posizione aperta e ampio stop profit sui 19,8 per il nostro  buy.</text>
<rect x="1475.5" y="545.5" width="206" height="12" fill="#fff" stroke="#000" shape-rendering="crispEdges"/>
<text x="1477" y="554.3" font-size="10" font-weight="bold" fill="#000" stroke="#000" stroke-width="0.45" textLength="203" lengthAdjust="spacingAndGlyphs">COPYRIGHT@ LABORSADEIPICCOLI.COM</text>
</svg></body></html>
